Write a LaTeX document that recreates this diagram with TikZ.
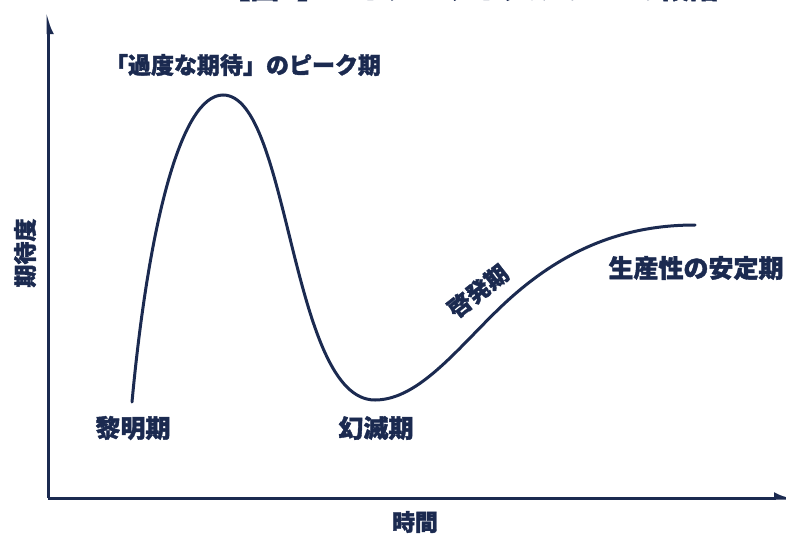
\documentclass[tikz,border=0pt]{standalone}
\usepackage{fontspec}
\newfontfamily\cjk{Noto Sans CJK JP}[BoldFeatures={FakeBold=1.6}]
\usetikzlibrary{arrows.meta}
\definecolor{navy}{HTML}{1B2A50}
\begin{document}
\begin{tikzpicture}[x=1pt,y=-1pt,
  lbl/.style={text=navy,font=\cjk\bfseries\fontsize{23}{23}\selectfont,inner sep=0pt},
  big/.style={lbl,font=\cjk\bfseries\fontsize{25}{25}\selectfont},
  axis/.style={draw=navy,line width=3pt},
  curve/.style={draw=navy,line width=3pt,line cap=round}]
\useasboundingbox (0,0) rectangle (786,536);
\clip (0,0) rectangle (786,536);
% title (cut off at top edge)
\node[lbl,font=\cjk\bfseries\fontsize{29}{29}\selectfont,anchor=south] (title) at (470,1.5) {【図1】ハイプ・サイクルの5つの段階};
% axes
\coordinate (o) at (48,498);
\coordinate (ytop) at (48,12);
\coordinate (xend) at (796,498);
\draw[axis,-{Latex[harpoon,swap,length=16pt,width=12pt]}] (o) -- (ytop);
\draw[axis,-{Latex[harpoon,length=16pt,width=12pt]}] (o) -- (xend);
% hype curve
\coordinate (start) at (132,402);
\coordinate (peakpt) at (223,95);
\coordinate (low) at (375,400);
\coordinate (mid) at (505,303);
\coordinate (fin) at (695,225);
\draw[curve] (start) .. controls (148,230) and (180,95) .. (peakpt)
  .. controls (290,95) and (290,400) .. (low)
  .. controls (420,400) and (460,345) .. (mid)
  .. controls (560,252) and (620,225) .. (fin);
% labels
\node[lbl] (peak) at (243,65) {「過度な期待」のピーク期};
\node[big] (dawn) at (133,428) {黎明期};
\node[big] (trough) at (376,428) {幻滅期};
\node[lbl,rotate=38] (slope) at (478,291) {啓発期};
\node[big] (plateau) at (696,268) {生産性の安定期};
\node[lbl,rotate=90] (ylab) at (25,253) {期待度};
\node[lbl] (xlab) at (415,522) {時間};
\end{tikzpicture}
\end{document}
